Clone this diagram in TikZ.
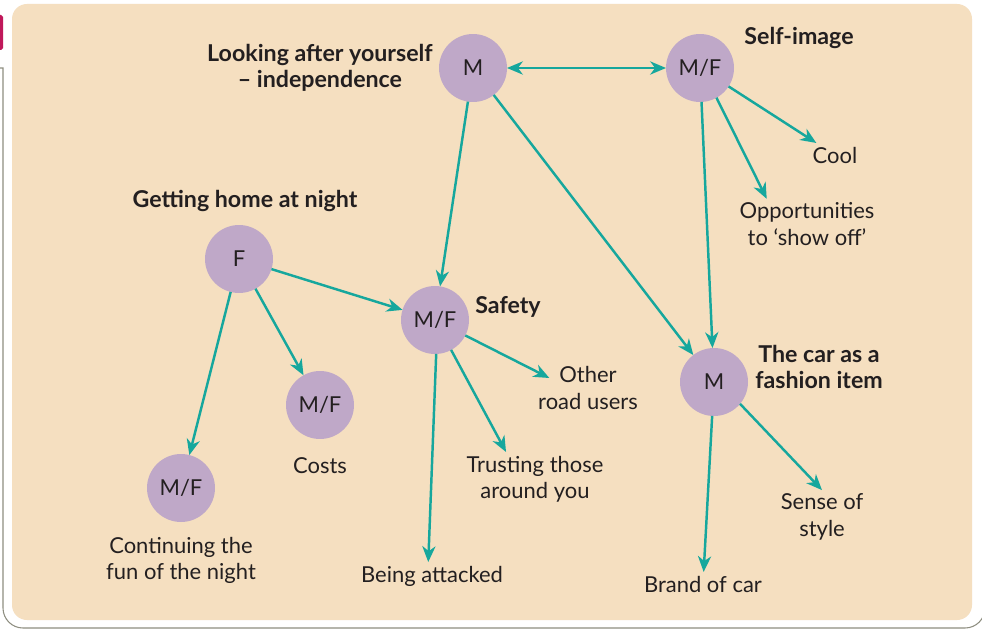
\documentclass[tikz,border=0pt]{standalone}
\usepackage{fontspec}
\setmainfont{Lato}
\usetikzlibrary{arrows.meta,positioning}
\definecolor{sand}{HTML}{F5DFC0}
\definecolor{lilac}{HTML}{BFA8C8}
\definecolor{mapteal}{HTML}{16A79D}
\definecolor{ink}{HTML}{231F20}
\definecolor{framegray}{HTML}{8E8E80}
\definecolor{tabred}{HTML}{C0185A}

\begin{document}
\begin{tikzpicture}[x=0.02cm, y=-0.02cm, font=\fontsize{12.5}{15}\selectfont, text=ink]
  \tikzstyle{motive} = [circle, fill=lilac, minimum size=1.36cm, inner sep=0pt, outer sep=0pt]
  \tikzstyle{theme} = [align=center, font=\fontsize{13.2}{15}\selectfont\bfseries, inner sep=2pt]
  \tikzstyle{leaf} = [align=center, inner sep=2pt]
  \tikzstyle{arrow} = [-{Stealth[length=9pt,width=7.5pt,inset=2.8pt]}, line width=1.4pt, draw=mapteal]
  \tikzstyle{biarrow} = [{Stealth[length=9pt,width=7.5pt,inset=2.8pt]}-{Stealth[length=9pt,width=7.5pt,inset=2.8pt]}, line width=1.4pt, draw=mapteal]
  \useasboundingbox (0,0) rectangle (982,628);
  % frame and panel
  \draw[framegray, line width=0.6pt] (0,68) -- (3,68) -- (3,560) [rounded corners=0.4cm] -- (3,628) -- (985,628) -- (985,-20);
  \fill[tabred, rounded corners=1pt] (-3,15) rectangle (3,50);
  \fill[white, rounded corners=0.4cm] (6,-2) rectangle (978,625);
  \fill[sand, rounded corners=0.3cm] (12,4) rectangle (972,620);
  % motives
  \node[motive] (look) at (473,68) {M};
  \node[motive] (selfimg) at (700,68) {M/F};
  \node[motive] (home) at (239,259) {F};
  \node[motive] (safety) at (435,320) {M/F};
  \node[motive] (costs) at (320,405) {M/F};
  \node[motive] (fun) at (181,488) {M/F};
  \node[motive] (car) at (714,382) {M};
  % themes
  \node[theme, left=0.05cm of look] (lookl) {Looking after yourself\\– independence};
  \node[theme] (selfl) at (799,38) {Self-image};
  \node[theme] (homel) at (245,201) {Getting home at night};
  \node[theme] (safetyl) at (508,307) {Safety};
  \node[theme] (carl) at (819,367) {The car as a\\fashion item};
  % leaves
  \node[leaf] (cool) at (835,155) {Cool};
  \node[leaf] (opp) at (807,224) {Opportunities\\to ‘show off’};
  \node[leaf] (other) at (588,388) {Other\\road users};
  \node[leaf] (trust) at (535,479) {Trusting those\\around you};
  \node[leaf] (attack) at (432,576) {Being attacked};
  \node[leaf, below=0.3cm of costs] (costl) {Costs};
  \node[leaf, below=0.22cm of fun] (funl) {Continuing the\\fun of the night};
  \node[leaf] (style) at (822,517) {Sense of\\style};
  \node[leaf] (brand) at (703,584) {Brand of car};
  % links
  \draw[biarrow] (look) -- (selfimg);
  \draw[arrow] (look) -- (safety);
  \draw[arrow] (look) -- (car);
  \draw[arrow] (selfimg) -- (cool);
  \draw[arrow] (selfimg.-61) -- (opp.148);
  \draw[arrow] (selfimg) -- (car);
  \draw[arrow] (home) -- (safety);
  \draw[arrow] (home) -- (costs);
  \draw[arrow] (home) -- (fun);
  \draw[arrow] (safety.-27) -- ([xshift=0.3cm,yshift=0.2cm]other.west);
  \draw[arrow] (safety) -- (trust.137);
  \draw[arrow] (safety.-88) -- (attack.105);
  \draw[arrow] (car.-40) -- (style.north);
  \draw[arrow] (car) -- (brand);
\end{tikzpicture}
\end{document}
